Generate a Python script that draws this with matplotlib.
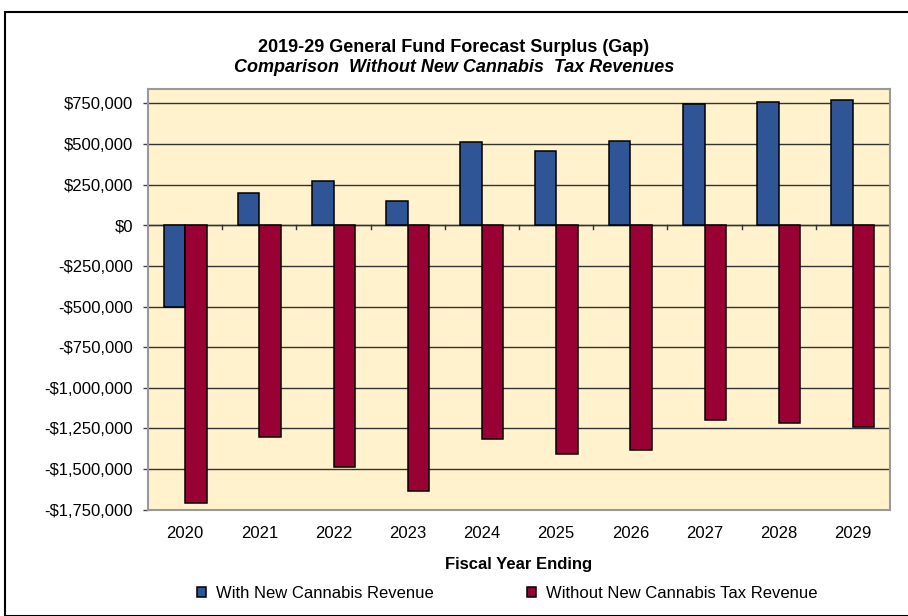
import matplotlib
matplotlib.use("Agg")
import matplotlib.pyplot as plt
import numpy as np
from matplotlib.ticker import FuncFormatter
from matplotlib.patches import Rectangle

years = ["2020", "2021", "2022", "2023", "2024", "2025", "2026", "2027", "2028", "2029"]
with_cannabis = [-505000, 200000, 271000, 149000, 512000, 454000, 519000, 744000, 760000, 771000]
without_cannabis = [-1710000, -1300000, -1486000, -1638000, -1317000, -1407000, -1385000, -1200000, -1214000, -1243000]
series_names = ["With New Cannabis Revenue", "Without New Cannabis Tax Revenue"]
yticks = np.arange(-1750000, 750001, 250000)

plt.rcParams['font.family'] = ['Liberation Sans', 'DejaVu Sans']

fig = plt.figure(figsize=(9.08, 6.16), dpi=100)
W, H = 908, 616
ax = fig.add_axes([148 / W, 1 - 509.7 / H, (890 - 148) / W, (509.7 - 88.7) / H])
ax.set_facecolor("#FFF2CC")

x = np.arange(len(years))
bw = 0.29
ax.bar(x - bw / 2, with_cannabis, bw, color="#2F5597", edgecolor="black", linewidth=1.1,
       label=series_names[0], zorder=3)
ax.bar(x + bw / 2, without_cannabis, bw, color="#990033", edgecolor="black", linewidth=1.1,
       label=series_names[1], zorder=3)

ax.set_xlim(-0.5, len(years) - 0.5)
ax.set_ylim(yticks[0], 840000)
ax.set_yticks(yticks)

def fmt(v, pos):
    if v == 0:
        return "$0"
    s = "${:,.0f}".format(abs(v))
    return "-" + s if v < 0 else s

ax.yaxis.set_major_formatter(FuncFormatter(fmt))
ax.grid(axis="y", color="#333333", linewidth=1.0, zorder=1)
ax.axhline(0, color="#333333", linewidth=1.0, zorder=2)

# category tick marks on the zero line
for b in np.arange(0.5, len(years) - 0.5, 1.0):
    ax.plot([b, b], [0, -25000], color="#333333", linewidth=1.0, zorder=2)

ax.set_xticks(x)
ax.set_xticklabels(years)
ax.tick_params(axis="x", length=0, labelsize=12, pad=12)
ax.tick_params(axis="y", length=3.8, width=1.0, direction="out", labelsize=12, color="#444444", pad=7)
for sp in ax.spines.values():
    sp.set_color("#999999")
    sp.set_linewidth(1.5)

ax.set_xlabel("Fiscal Year Ending", fontsize=12, fontweight="bold", labelpad=11)

fig.text(0.5, 1 - 47 / H, "2019-29 General Fund Forecast Surplus (Gap)", ha="center", va="center",
         fontsize=13, fontweight="bold")
fig.text(0.5, 1 - 67 / H, "Comparison  Without New Cannabis  Tax Revenues", ha="center", va="center",
         fontsize=13, fontweight="bold", style="italic")

leg = fig.legend(loc="center", bbox_to_anchor=(507 / W, 1 - 593 / H), ncol=2, frameon=False,
                 fontsize=12, handlelength=0.55, handleheight=0.55, columnspacing=5.6, handletextpad=0.6)

# outer chart border
fig.add_artist(Rectangle((5 / W, 0), 1.2, 1 - 11.5 / H, transform=fig.transFigure,
                         fill=False, edgecolor="black", linewidth=1.5))

fig.savefig("out.png", dpi=100)
